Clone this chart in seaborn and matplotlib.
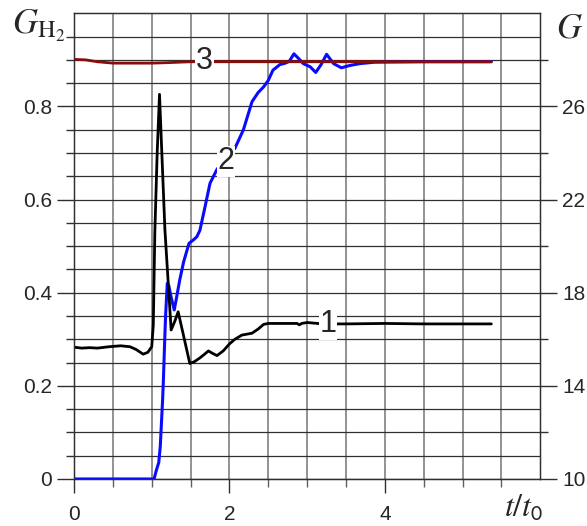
import matplotlib
matplotlib.use('Agg')
import matplotlib.pyplot as plt
import numpy as np
import seaborn as sns

# curve 1 (black)
x1 = [0, 0.1, 0.2, 0.3, 0.45, 0.6, 0.72, 0.8, 0.89, 0.95, 1.0, 1.02, 1.04, 1.07, 1.10,
      1.13, 1.17, 1.21, 1.25, 1.30, 1.34, 1.42, 1.49, 1.55, 1.62, 1.68, 1.73, 1.78, 1.84,
      1.92, 2.0, 2.07, 2.16, 2.29, 2.37, 2.44, 2.5, 2.7, 2.87, 2.9, 2.93, 3.0, 3.2, 3.5,
      4.0, 4.5, 5.0, 5.37]
y1 = [0.283, 0.281, 0.282, 0.281, 0.284, 0.286, 0.284, 0.278, 0.268, 0.272, 0.284, 0.33,
      0.53, 0.70, 0.826, 0.70, 0.534, 0.427, 0.32, 0.34, 0.359, 0.30, 0.248, 0.252, 0.260,
      0.268, 0.275, 0.27, 0.265, 0.275, 0.29, 0.300, 0.309, 0.313, 0.322, 0.332, 0.334,
      0.334, 0.334, 0.331, 0.334, 0.336, 0.333, 0.333, 0.334, 0.333, 0.333, 0.333]

# curve 2 (blue)
x2 = [0, 0.5, 1.0, 1.03, 1.06, 1.09, 1.11, 1.14, 1.15, 1.17, 1.18, 1.20, 1.22, 1.25,
      1.29, 1.32, 1.36, 1.41, 1.48, 1.54, 1.58, 1.62, 1.68, 1.75, 1.84, 1.95, 2.07, 2.18,
      2.29, 2.37, 2.44, 2.5, 2.56, 2.65, 2.72, 2.77, 2.83, 2.89, 2.95, 3.04, 3.11, 3.18,
      3.25, 3.34, 3.44, 3.55, 3.68, 3.87, 4.5, 5.37]
y2 = [0, 0, 0, 0, 0.019, 0.035, 0.07, 0.17, 0.212, 0.313, 0.356, 0.42, 0.415, 0.39,
      0.363, 0.39, 0.427, 0.466, 0.506, 0.514, 0.52, 0.534, 0.58, 0.635, 0.665, 0.69,
      0.71, 0.75, 0.81, 0.83, 0.842, 0.856, 0.878, 0.89, 0.893, 0.897, 0.913, 0.903,
      0.892, 0.885, 0.873, 0.89, 0.912, 0.892, 0.883, 0.888, 0.892, 0.895, 0.896, 0.896]

# curve 3 (dark red)
x3 = [0, 0.15, 0.3, 0.5, 0.8, 1.0, 1.2, 1.5, 2.0, 3.0, 4.0, 5.37]
y3 = [0.901, 0.900, 0.896, 0.893, 0.893, 0.893, 0.894, 0.896, 0.896, 0.896, 0.896, 0.896]

# curve labels: (text, x, y)
curve_labels = [('1', 3.27, 0.333), ('2', 1.95, 0.682), ('3', 1.68, 0.897)]

x_major = [0, 2, 4]
y_major = [0, 0.2, 0.4, 0.6, 0.8]
g_major = [10, 14, 18, 22, 26]
g_minor = [12, 16, 20, 24, 28]

sns.set_style('white')
plt.rcParams['font.family'] = ['Liberation Sans', 'DejaVu Sans']
plt.rcParams['mathtext.fontset'] = 'stix'

fig = plt.figure(figsize=(5.87, 5.26), dpi=100)
ax = fig.add_axes([0.1261, 0.0894, 0.7943, 0.8853])

sns.lineplot(x=x2, y=y2, ax=ax, color='#0a0aff', lw=2.2, estimator=None, zorder=3)
sns.lineplot(x=x1, y=y1, ax=ax, color='black', lw=2.0, estimator=None, zorder=4)
sns.lineplot(x=x3, y=y3, ax=ax, color='#8b0a0a', lw=2.0, estimator=None, zorder=5)

ax.set_xlim(0, 6)
ax.set_ylim(0, 1.0)
ax.set_xticks(x_major)
ax.set_xticklabels([str(v) for v in x_major])
ax.set_xticks(np.arange(0.5, 6, 0.5), minor=True)
ax.set_yticks(y_major)
ax.set_yticklabels(['0', '0.2', '0.4', '0.6', '0.8'])
ax.set_yticks(np.arange(0.05, 1.0, 0.05), minor=True)

ax.grid(True, which='both', axis='x', color='#808080', lw=1.2)
ax.grid(True, which='both', axis='y', color='#303030', lw=0.9)
ax.set_axisbelow(True)

ax.tick_params(axis='x', which='major', direction='out', length=10, width=1,
               color='#303030', pad=9, labelsize=15, bottom=True)
ax.tick_params(axis='x', which='minor', direction='out', length=5.8, width=1,
               color='#606060', bottom=True)
ax.tick_params(axis='y', which='major', direction='out', length=12, width=1,
               color='#303030', pad=4, labelsize=15, left=True)
ax.tick_params(axis='y', which='minor', direction='out', length=5.8, width=1,
               color='#303030', left=True)
for s in ax.spines.values():
    s.set_color('#303030')
    s.set_linewidth(1)

# right axis G
ax2 = ax.twinx()
ax2.set_ylim(10, 30)
ax2.set_yticks(g_major)
ax2.set_yticklabels([str(v) for v in g_major])
ax2.set_yticks(g_minor, minor=True)
ax2.grid(False)
ax2.tick_params(axis='y', which='major', direction='out', length=12, width=1,
                color='#303030', pad=4, labelsize=15, right=True)
ax2.tick_params(axis='y', which='minor', direction='out', length=5.8, width=1,
                color='#303030', right=True)
for s in ax2.spines.values():
    s.set_color('#303030')

for txt, lx, ly in curve_labels:
    ax.text(lx, ly, txt, fontsize=22, ha='center', va='center', zorder=6,
            bbox=dict(facecolor='white', edgecolor='none', pad=0.5))

fig.text(12 / 587, 1 - 34 / 526, r'$G_{\mathrm{H}_2}$', fontsize=25, va='baseline')
fig.text(556 / 587, 1 - 38 / 526, r'$G$', fontsize=25, va='baseline')
fig.text(504 / 587, 1 - 517 / 526, r'$t/t_\mathsf{0}$', fontsize=23, va='baseline')

fig.savefig('out.png', dpi=100)
